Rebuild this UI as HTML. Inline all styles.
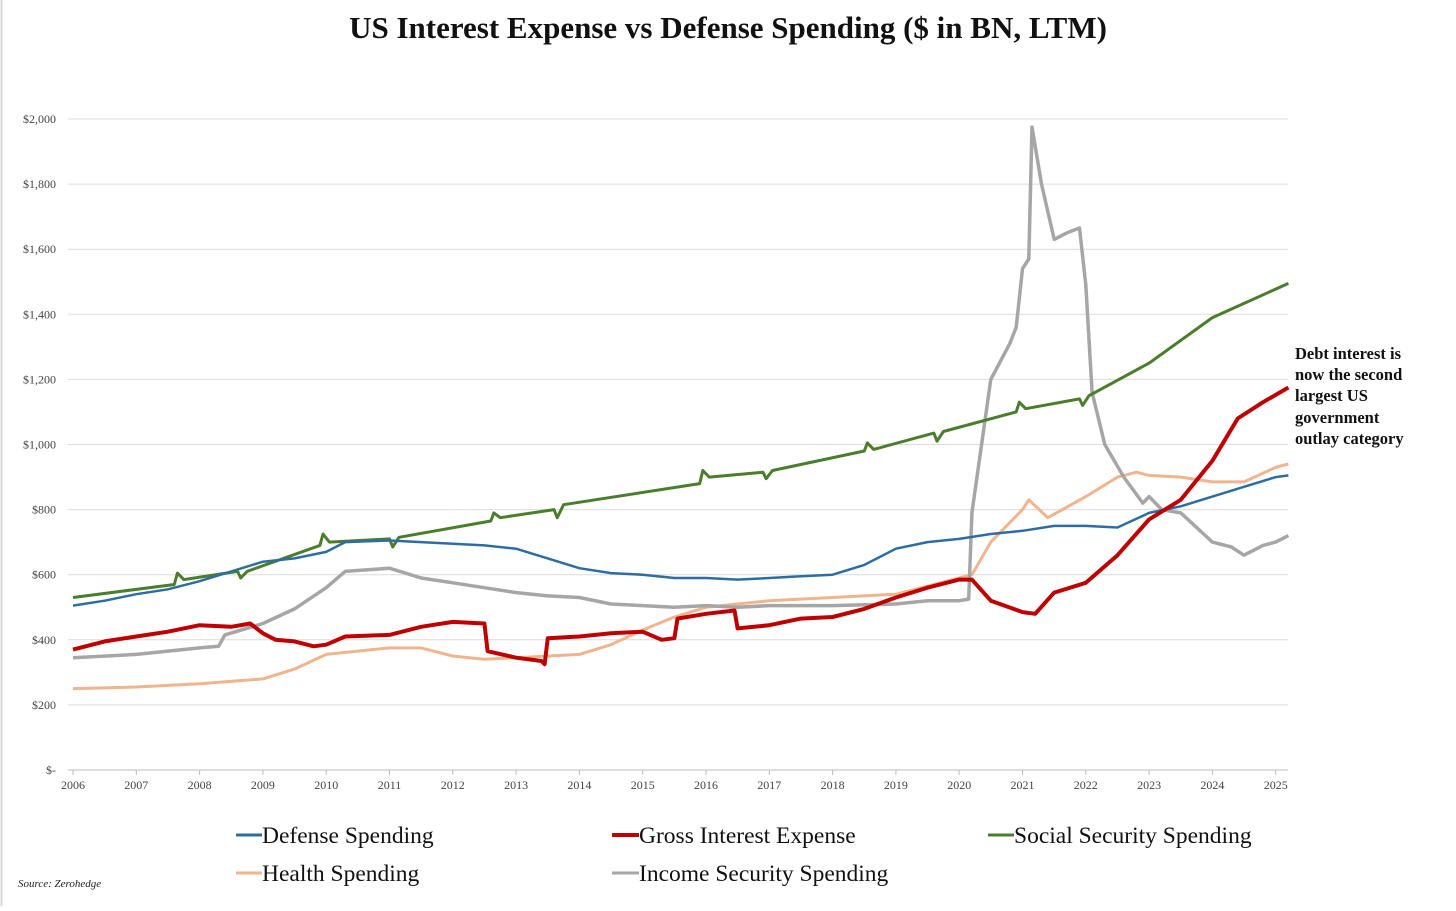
<!DOCTYPE html>
<html><head><meta charset="utf-8"><style>
html,body{margin:0;padding:0;background:#fff;}
body{width:1456px;height:906px;overflow:hidden;font-family:"Liberation Serif",serif;}
</style></head><body>
<svg id="chart" width="1456" height="906" xmlns="http://www.w3.org/2000/svg" font-family="Liberation Serif, serif">
<rect x="0" y="0" width="1456" height="906" fill="#fff"/>
<line x1="1.5" y1="0" x2="1.5" y2="906" stroke="#d8d8d8" stroke-width="2"/>
<text x="728" y="38" text-anchor="middle" font-size="31" font-weight="bold" fill="#111">US Interest Expense vs Defense Spending ($ in BN, LTM)</text>
<g id="grid"></g><g id="xaxis"></g><g id="series"></g>
<text font-size="16.5" font-weight="bold" fill="#111">
<tspan x="1295" y="359">Debt interest is</tspan><tspan x="1295" y="380">now the second</tspan><tspan x="1295" y="401">largest US</tspan><tspan x="1295" y="423">government</tspan><tspan x="1295" y="444">outlay category</tspan></text>
<g font-size="23.5" fill="#111">
<g><line x1="236" y1="835" x2="262" y2="835" stroke="#2e6da4" stroke-width="3"/><text x="262" y="843">Defense Spending</text></g>
<g><line x1="612" y1="835" x2="639" y2="835" stroke="#c00000" stroke-width="4"/><text x="639" y="843">Gross Interest Expense</text></g>
<g><line x1="988" y1="835" x2="1014" y2="835" stroke="#4a7d2c" stroke-width="3"/><text x="1014" y="843">Social Security Spending</text></g>
<g><line x1="236" y1="873" x2="262" y2="873" stroke="#f0b48e" stroke-width="3"/><text x="262" y="881">Health Spending</text></g>
<g><line x1="612" y1="873" x2="639" y2="873" stroke="#a6a6a6" stroke-width="3"/><text x="639" y="881">Income Security Spending</text></g>
</g>
<text x="18" y="887" font-size="11" font-style="italic" fill="#222">Source: Zerohedge</text>
</svg>
<script>
const yTicks=[0,200,400,600,800,1000,1200,1400,1600,1800,2000];
const yTickLabels=["$-","$200","$400","$600","$800","$1,000","$1,200","$1,400","$1,600","$1,800","$2,000"];
const xTicks=[2006,2007,2008,2009,2010,2011,2012,2013,2014,2015,2016,2017,2018,2019,2020,2021,2022,2023,2024,2025];
const ssX=[2006,2007.6,2007.65,2007.75,2008.6,2008.65,2008.75,2009.9,2009.95,2010.05,2011,2011.05,2011.15,2012.6,2012.65,2012.75,2013.6,2013.65,2013.75,2015.9,2015.95,2016.05,2016.9,2016.95,2017.05,2018.5,2018.55,2018.65,2019.6,2019.65,2019.75,2020.9,2020.95,2021.05,2021.9,2021.95,2022.05,2023,2024,2025.2];
const ssY=[530,570,605,585,610,590,610,690,725,700,710,685,715,765,790,775,800,775,815,880,920,900,915,895,920,980,1005,985,1035,1010,1040,1100,1130,1110,1140,1120,1150,1250,1390,1495];
const defX=[2006,2006.5,2007,2007.5,2008,2008.5,2009,2009.5,2010,2010.3,2011,2011.5,2012,2012.5,2013,2013.5,2014,2014.5,2015,2015.5,2016,2016.5,2017,2017.5,2018,2018.5,2019,2019.5,2020,2020.5,2021,2021.5,2022,2022.5,2023,2023.5,2024,2024.5,2025,2025.2];
const defY=[505,520,540,555,580,610,640,650,670,700,705,700,695,690,680,650,620,605,600,590,590,585,590,595,600,630,680,700,710,725,735,750,750,745,790,810,840,870,900,905];
const intX=[2006,2006.5,2007,2007.5,2008,2008.5,2008.8,2009,2009.2,2009.5,2009.8,2010,2010.3,2011,2011.5,2012,2012.5,2012.55,2013,2013.4,2013.45,2013.5,2014,2014.5,2015,2015.3,2015.5,2015.55,2016,2016.45,2016.5,2017,2017.5,2018,2018.5,2019,2019.5,2020,2020.2,2020.5,2021,2021.2,2021.5,2022,2022.5,2023,2023.5,2024,2024.4,2024.8,2025.2];
const intY=[370,395,410,425,445,440,450,420,400,395,380,385,410,415,440,455,450,365,345,335,325,405,410,420,425,400,405,465,480,490,435,445,465,470,495,530,560,585,585,520,485,480,545,575,660,770,830,950,1080,1130,1175];
const hX=[2006,2007,2008,2009,2009.5,2010,2011,2011.5,2012,2012.5,2013,2014,2014.5,2015,2015.5,2016,2017,2017.5,2018,2019,2020,2020.2,2020.5,2021,2021.1,2021.4,2022,2022.5,2022.8,2023,2023.5,2024,2024.5,2025,2025.2];
const hY=[250,255,265,280,310,355,375,375,350,340,345,355,385,430,470,500,520,525,530,540,590,600,700,800,830,775,840,900,915,905,900,885,885,930,940];
const incX=[2006,2007,2008,2008.3,2008.4,2009,2009.5,2010,2010.3,2011,2011.5,2012,2012.5,2013,2013.5,2014,2014.5,2015,2015.5,2016,2016.5,2017,2018,2019,2019.5,2020,2020.15,2020.2,2020.5,2020.8,2020.9,2021,2021.1,2021.15,2021.3,2021.5,2021.7,2021.9,2022,2022.1,2022.3,2022.6,2022.9,2023,2023.2,2023.5,2024,2024.3,2024.5,2024.8,2025,2025.2];
const incY=[345,355,375,380,415,450,495,560,610,620,590,575,560,545,535,530,510,505,500,505,500,505,505,510,520,520,525,790,1200,1310,1360,1540,1570,1975,1800,1630,1650,1665,1490,1160,1000,900,820,840,800,790,700,685,660,690,700,720];

const NS="http://www.w3.org/2000/svg";
const X=v=>73+(v-2006)*63.3;
const Y=v=>770-v*0.3255;
const grid=document.getElementById('grid');
yTicks.forEach((t,i)=>{
  const l=document.createElementNS(NS,'line');
  l.setAttribute('x1',68);l.setAttribute('x2',1288);l.setAttribute('y1',Y(t));l.setAttribute('y2',Y(t));
  l.setAttribute('stroke',i===0?'#bbb':'#dcdcdc');l.setAttribute('stroke-width',1);
  
  
  grid.appendChild(l);
  const tx=document.createElementNS(NS,'text');
  tx.setAttribute('x',56);tx.setAttribute('y',Y(t)+4);tx.setAttribute('text-anchor','end');
  tx.setAttribute('font-size',12);tx.setAttribute('fill','#444');tx.textContent=yTickLabels[i];
  
  
  grid.appendChild(tx);
});
const xa=document.getElementById('xaxis');
xTicks.forEach(t=>{
  const l=document.createElementNS(NS,'line');
  l.setAttribute('x1',X(t));l.setAttribute('x2',X(t));l.setAttribute('y1',770);l.setAttribute('y2',775);
  l.setAttribute('stroke','#bbb');
  
  
  xa.appendChild(l);
  const tx=document.createElementNS(NS,'text');
  tx.setAttribute('x',X(t));tx.setAttribute('y',789);tx.setAttribute('text-anchor','middle');
  tx.setAttribute('font-size',12);tx.setAttribute('fill','#444');tx.textContent=t;
  
  
  xa.appendChild(tx);
});
const sg=document.getElementById('series');
function line(xs,ys,color,w,name){
  const p=document.createElementNS(NS,'path');
  p.setAttribute('d',xs.map((x,i)=>(i?'L':'M')+X(x).toFixed(1)+','+Y(ys[i]).toFixed(1)).join(''));
  p.setAttribute('fill','none');p.setAttribute('stroke',color);p.setAttribute('stroke-width',w);
  p.setAttribute('stroke-linejoin','round');
  
  
  sg.appendChild(p);
}
line(hX,hY,'#f0b48e',3,'health-line');
line(incX,incY,'#a6a6a6',3.5,'income-security-line');
line(ssX,ssY,'#4a7d2c',3,'social-security-line');
line(defX,defY,'#2e6da4',2.5,'defense-line');
line(intX,intY,'#c00000',4,'interest-line');
</script>
</body></html>
